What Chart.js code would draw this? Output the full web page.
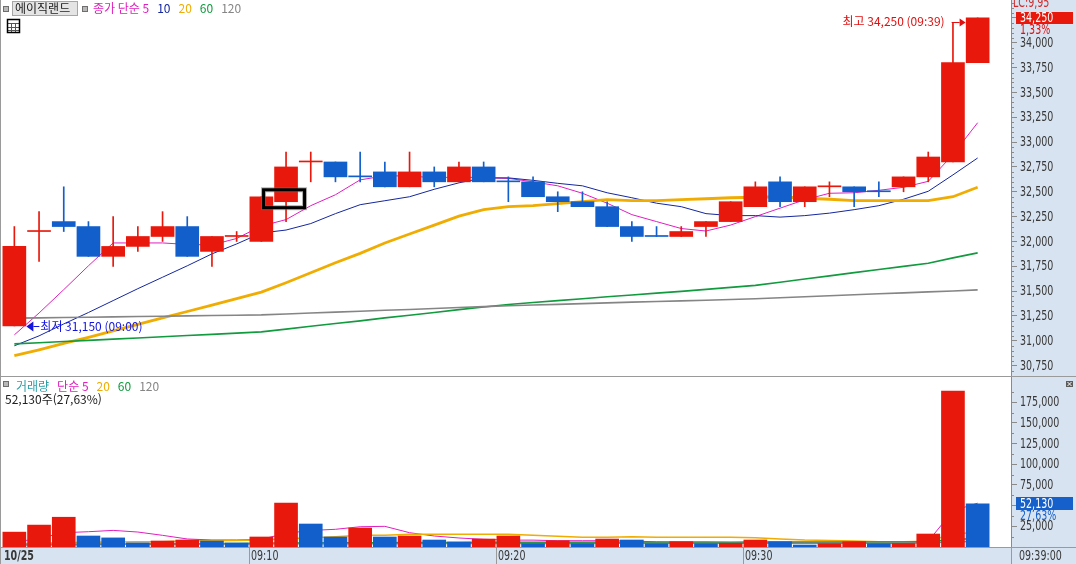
<!DOCTYPE html>
<html lang="ko">
<head>
<meta charset="utf-8">
<title>에이직랜드 1분봉</title>
<script src="https://cdn.jsdelivr.net/npm/chart.js@4.4.0/dist/chart.umd.min.js"></script>
<style>
  html, body { margin: 0; padding: 0; background: #fff; }
  #wrap { position: relative; width: 1076px; height: 564px; overflow: hidden; }
  #priceCanvas { position: absolute; left: 0; top: 0; }
  #volCanvas { position: absolute; left: 0; top: 377px; }
</style>
</head>
<body>
<div id="wrap">
  <canvas id="priceCanvas" width="1076" height="377"></canvas>
  <canvas id="volCanvas" width="1076" height="187"></canvas>
</div>
<script>
// 1분봉 10/25 09:00 ~ 09:39
const opens  = [31150, 32100, 32200, 32150, 31850, 31950, 32050, 32150, 31900, 32050,
                32000, 32400, 32800, 32800, 32650, 32700, 32550, 32700, 32600, 32750,
                32600, 32600, 32450, 32400, 32350, 32150, 32050, 32050, 32150, 32200,
                32350, 32600, 32400, 32550, 32550, 32500, 32550, 32650, 32800, 33800];
const highs  = [32150, 32300, 32550, 32200, 32250, 32150, 32300, 32250, 32050, 32100,
                32450, 32900, 32900, 32800, 32900, 32800, 32900, 32750, 32800, 32800,
                32650, 32650, 32500, 32500, 32400, 32200, 32150, 32150, 32200, 32400,
                32600, 32650, 32550, 32600, 32550, 32600, 32650, 32900, 34200, 34250];
const lows   = [31150, 31800, 32100, 31850, 31750, 31900, 32000, 31850, 31750, 32000,
                32000, 32200, 32600, 32600, 32600, 32550, 32550, 32550, 32600, 32600,
                32400, 32450, 32300, 32350, 32150, 32000, 32050, 32050, 32050, 32200,
                32350, 32350, 32350, 32450, 32350, 32450, 32500, 32600, 32800, 33800];
const closes = [31950, 32100, 32150, 31850, 31950, 32050, 32150, 31850, 32050, 32050,
                32450, 32750, 32800, 32650, 32650, 32550, 32700, 32600, 32750, 32600,
                32600, 32450, 32400, 32350, 32150, 32050, 32050, 32100, 32200, 32400,
                32550, 32400, 32550, 32550, 32500, 32500, 32650, 32850, 33800, 34250];
const dojiUp = [1, 9, 12, 33];   // 시가=종가인데 빨간 십자로 그려진 봉

const ma5   = [31060, 31280, 31515, 31755, 31985, 31985, 31985, 31970, 31965, 32030,
               32155, 32220, 32360, 32470, 32620, 32660, 32660, 32640, 32650, 32640,
               32635, 32600, 32560, 32485, 32385, 32270, 32200, 32130, 32105, 32165,
               32250, 32335, 32420, 32485, 32490, 32515, 32545, 32605, 32875, 33195];
const ma10  = [30950, 31050, 31170, 31285, 31405, 31525, 31640, 31755, 31875, 31975,
               32085, 32115, 32180, 32280, 32370, 32410, 32450, 32525, 32590, 32640,
               32640, 32615, 32585, 32560, 32490, 32440, 32385, 32350, 32280, 32260,
               32260, 32245, 32260, 32285, 32320, 32360, 32425, 32505, 32670, 32840];
const ma20  = [30850, 30910, 30975, 31035, 31100, 31165, 31230, 31295, 31360, 31425,
               31490, 31585, 31685, 31785, 31880, 31985, 32075, 32165, 32255, 32320,
               32350, 32360, 32380, 32400, 32420, 32410, 32410, 32420, 32430, 32440,
               32445, 32450, 32435, 32425, 32410, 32410, 32410, 32410, 32450, 32545];
const ma60  = [30969, 30980, 30993, 31005, 31017, 31029, 31041, 31053, 31065, 31077,
               31090, 31118, 31146, 31174, 31201, 31231, 31257, 31285, 31314, 31341,
               31366, 31385, 31405, 31424, 31443, 31461, 31480, 31498, 31518, 31538,
               31558, 31590, 31622, 31654, 31686, 31718, 31749, 31781, 31835, 31885];
const ma120 = [31228, 31231, 31235, 31238, 31241, 31245, 31248, 31251, 31255, 31258,
               31261, 31270, 31280, 31289, 31298, 31307, 31316, 31326, 31335, 31344,
               31353, 31360, 31367, 31374, 31382, 31389, 31396, 31402, 31409, 31416,
               31424, 31434, 31444, 31453, 31463, 31473, 31483, 31493, 31502, 31513];

const volumes = [18000, 26500, 36000, 13300, 11000, 5000, 7250, 8450, 7250, 4800,
                 12100, 53150, 27800, 12100, 22950, 12100, 13300, 8450, 6050, 9650,
                 13300, 4000, 7600, 4000, 9650, 8450, 4000, 6400, 4000, 4500,
                 8450, 6400, 2400, 4000, 6400, 4000, 4300, 15700, 188670, 52130];
const vma5   = [5700, 10500, 17300, 18500, 20100, 18100, 14100, 9700, 8500, 8500,
                9300, 16500, 20000, 21400, 24500, 25000, 17300, 13300, 10900, 9300,
                8300, 8300, 7600, 7600, 7600, 7300, 6200, 6000, 6000, 5500,
                5500, 5500, 5300, 5100, 5000, 4500, 4300, 7000, 43800, 52960];
const vma20  = [3600, 4400, 5200, 5600, 6000, 6400, 6400, 7600, 7600, 8000,
                8500, 10100, 11300, 12500, 14100, 14100, 15300, 15300, 15300, 15300,
                15300, 14100, 12900, 11700, 11700, 12300, 11700, 11700, 11700, 11700,
                11300, 9700, 8500, 8000, 7300, 6400, 6400, 6900, 15800, 17900];
const vma60  = [2400, 2600, 2800, 3000, 3300, 3500, 3700, 3900, 4100, 4300,
                4500, 4700, 4900, 5000, 5100, 5200, 5300, 5400, 5500, 5600,
                5700, 5700, 5750, 5750, 5800, 5800, 5800, 5850, 5850, 5850,
                5900, 5900, 5900, 5900, 5950, 5950, 5950, 6200, 9300, 10100];
const vma120 = [3300, 3350, 3400, 3450, 3500, 3550, 3600, 3650, 3700, 3750,
                3800, 3850, 3900, 3950, 4000, 4050, 4100, 4150, 4200, 4250,
                4300, 4300, 4350, 4350, 4400, 4400, 4450, 4450, 4500, 4500,
                4550, 4550, 4600, 4600, 4650, 4650, 4700, 4800, 6300, 6700];

const priceTicks = [30750, 31000, 31250, 31500, 31750, 32000, 32250, 32500,
                    32750, 33000, 33250, 33500, 33750, 34000, 34250];
const volTicks = [25000, 50000, 75000, 100000, 125000, 150000, 175000];
const xTickAt = [0, 10, 20, 30];
const xTickLabels = ['10/25', '09:10', '09:20', '09:30'];
const lastTimeLabel = '09:39:00';
const stockName = '에이직랜드';
const changePct = '1,33%';
const topNote = 'LC:9,95';

const RED = '#e8190c', BLUE = '#125fcc';
const MAGENTA = '#e01fc0', NAVY = '#14279e', ORANGE = '#f0ac00', GREEN = '#119a3e', GRAY = '#858585';
const TEAL = '#2a9ea6';
const AXIS_BG = '#d7e3f0', LINE_GRAY = '#9a9a9a', TEXT = '#383838';
const NUM_FONT = "'DejaVu Sans', sans-serif";
const KR = "'Noto Sans CJK KR', 'Noto Sans', sans-serif";

const fmt = v => v.toLocaleString('en-US');
const xIdx = closes.map((_, i) => i);
const pts = arr => arr.map((v, i) => ({ x: i, y: v }));
const candleColor = xIdx.map(i =>
  (closes[i] > opens[i] || (closes[i] === opens[i] && dojiUp.includes(i))) ? RED : BLUE);
const volColor = volumes.map((v, i) => (i === 0 || v > volumes[i - 1]) ? RED : BLUE);

function maLine(label, arr, color, width) {
  return { type: 'line', label, data: pts(arr), borderColor: color, borderWidth: width,
           pointRadius: 0, tension: 0, fill: false, order: 2 };
}

// 좁은 굴림체 숫자 흉내: 가로로 눌러서 찍는다
function numText(ctx, s, x, y, color, bold) {
  ctx.save();
  ctx.translate(x, y);
  ctx.scale(0.68, 1);
  ctx.font = (bold ? 'bold ' : '') + '14px ' + NUM_FONT;
  ctx.fillStyle = color;
  ctx.textAlign = 'left';
  ctx.textBaseline = 'middle';
  ctx.fillText(s, 0, 0);
  ctx.restore();
}

function drawSeq(ctx, x, y, parts, gap) {
  ctx.font = '12px ' + KR;
  ctx.textBaseline = 'middle';
  ctx.textAlign = 'left';
  parts.forEach(([s, c]) => {
    ctx.fillStyle = c;
    ctx.fillText(s, x, y);
    x += ctx.measureText(s).width + gap;
  });
}

function smallBox(ctx, x, y) {
  ctx.fillStyle = '#b8b8b8';
  ctx.fillRect(x, y, 6, 6);
  ctx.strokeStyle = '#6e6e6e';
  ctx.lineWidth = 1;
  ctx.strokeRect(x + 0.5, y + 0.5, 5, 5);
}

function fillAxisBg(chart, withStrip) {
  const { ctx, chartArea: a, width, height } = chart;
  ctx.save();
  ctx.fillStyle = AXIS_BG;
  ctx.fillRect(a.right, 0, width - a.right, height);
  if (withStrip) ctx.fillRect(0, a.bottom, width, height - a.bottom);
  ctx.restore();
}

function yLabels(ctx, scale, x0) {
  scale.ticks.forEach(t => numText(ctx, fmt(t.value), x0 + 9, scale.getPixelForValue(t.value) + 0.5, TEXT));
}

function minorTicks(ctx, scale, x0, from, to, step, majorStep) {
  ctx.strokeStyle = '#8a8a8a';
  ctx.lineWidth = 1;
  ctx.beginPath();
  for (let v = from; v <= to; v += step) {
    if (v % majorStep === 0) continue;
    const py = Math.round(scale.getPixelForValue(v)) + 0.5;
    ctx.moveTo(x0, py);
    ctx.lineTo(x0 + 3, py);
  }
  ctx.stroke();
}

const pricePanel = {
  id: 'pricePanel',
  beforeDraw(chart) { fillAxisBg(chart, false); },
  afterDraw(chart) {
    const { ctx, chartArea: a, width, scales: { x, y } } = chart;
    ctx.save();
    minorTicks(ctx, y, a.right, 30650, 34400, 50, 250);
    yLabels(ctx, y, a.right);

    ctx.strokeStyle = LINE_GRAY;
    ctx.lineWidth = 1;
    ctx.beginPath();
    ctx.moveTo(0.5, 0); ctx.lineTo(0.5, 377);
    ctx.moveTo(0, 376.5); ctx.lineTo(width, 376.5);
    ctx.stroke();

    // 종목 범례
    smallBox(ctx, 3, 6);
    ctx.fillStyle = '#e4e4e4';
    ctx.fillRect(12, 1, 66, 15);
    ctx.strokeStyle = '#a6a6a6';
    ctx.strokeRect(12.5, 1.5, 65, 14);
    ctx.font = '12px ' + KR;
    ctx.fillStyle = '#202020';
    ctx.textBaseline = 'middle';
    ctx.fillText(stockName, 15, 8.5);
    smallBox(ctx, 82, 6);
    drawSeq(ctx, 93, 8.5, [['종가 단순 5', MAGENTA], ['10', NAVY], ['20', ORANGE], ['60', GREEN], ['120', GRAY]], 8);

    // 표 아이콘
    ctx.fillStyle = '#fff';
    ctx.fillRect(7, 19, 13, 14);
    ctx.strokeStyle = '#555';
    ctx.beginPath();
    [23.5, 27.5, 30.5].forEach(v => { ctx.moveTo(8, v); ctx.lineTo(19, v); });
    [11.5, 15.5].forEach(v => { ctx.moveTo(v, 23); ctx.lineTo(v, 32); });
    ctx.stroke();
    ctx.strokeStyle = '#000';
    ctx.lineWidth = 1.5;
    ctx.strokeRect(7.5, 19.5, 12, 13);

    // 선택 표시 박스
    const sx = x.getPixelForValue(11);
    const sTop = y.getPixelForValue(32520), sBot = y.getPixelForValue(32340);
    ctx.strokeStyle = 'rgba(110,110,110,0.55)';
    ctx.lineWidth = 5;
    ctx.strokeRect(sx - 22.5, sTop, 41, sBot - sTop);
    ctx.strokeStyle = '#000';
    ctx.lineWidth = 3;
    ctx.strokeRect(sx - 22.5, sTop, 41, sBot - sTop);

    // 최저 / 최고
    const lowV = Math.min(...lows), iLow = lows.indexOf(lowV);
    const highV = Math.max(...highs), iHigh = highs.indexOf(highV);
    ctx.lineWidth = 1;
    let ax = x.getPixelForValue(iLow) + 12, ay = Math.round(y.getPixelForValue(lowV)) + 0.5;
    ctx.fillStyle = '#1414e0';
    ctx.strokeStyle = '#1414e0';
    ctx.beginPath(); ctx.moveTo(ax, ay); ctx.lineTo(ax + 7, ay - 5); ctx.lineTo(ax + 7, ay + 5); ctx.closePath(); ctx.fill();
    ctx.beginPath(); ctx.moveTo(ax + 7, ay); ctx.lineTo(ax + 13, ay); ctx.stroke();
    ctx.font = '12px ' + KR;
    ctx.textAlign = 'left';
    ctx.fillText('최저 ' + fmt(lowV) + ' (09:00)', ax + 14, ay);

    ax = x.getPixelForValue(iHigh) - 12; ay = Math.round(y.getPixelForValue(highV)) + 4.5;
    ctx.fillStyle = '#e01010';
    ctx.strokeStyle = '#e01010';
    ctx.beginPath(); ctx.moveTo(ax, ay); ctx.lineTo(ax - 6, ay - 4); ctx.lineTo(ax - 6, ay + 4); ctx.closePath(); ctx.fill();
    ctx.beginPath(); ctx.moveTo(ax - 6, ay); ctx.lineTo(ax - 14, ay); ctx.stroke();
    ctx.textAlign = 'right';
    ctx.fillText('최고 ' + fmt(highV) + ' (09:39)', ax - 21, ay - 1.5);

    // 현재가 표시
    const last = closes[closes.length - 1];
    const cy = y.getPixelForValue(last);
    ctx.fillStyle = RED;
    ctx.fillRect(a.right + 5, Math.round(cy) - 6, 57, 12);
    numText(ctx, fmt(last), a.right + 9, cy, '#fff');
    numText(ctx, changePct, a.right + 9, cy + 12, '#e01010');
    numText(ctx, topNote, a.right + 2, 3, '#d02a2a');
    ctx.restore();
  }
};

const volPanel = {
  id: 'volPanel',
  beforeDraw(chart) { fillAxisBg(chart, true); },
  afterDraw(chart) {
    const { ctx, chartArea: a, width, height, scales: { x, y } } = chart;
    ctx.save();
    minorTicks(ctx, y, a.right, 12500, 187500, 12500, 25000);
    yLabels(ctx, y, a.right);

    ctx.strokeStyle = LINE_GRAY;
    ctx.lineWidth = 1;
    ctx.beginPath();
    ctx.moveTo(0.5, 0); ctx.lineTo(0.5, height);
    ctx.moveTo(0, Math.round(a.bottom) + 0.5); ctx.lineTo(width, Math.round(a.bottom) + 0.5);
    ctx.moveTo(Math.round(a.right) + 0.5, a.bottom); ctx.lineTo(Math.round(a.right) + 0.5, height);
    xTickAt.slice(1).forEach(t => {
      const px = Math.round(x.getPixelForValue(t - 0.5)) + 0.5;
      ctx.moveTo(px, a.bottom); ctx.lineTo(px, height);
    });
    ctx.stroke();

    // 시간축 라벨
    const midY = (a.bottom + height) / 2 + 1;
    x.ticks.forEach((t, i) => numText(ctx, xTickLabels[i], x.getPixelForValue(t.value) + 2, midY, TEXT, i === 0));
    numText(ctx, lastTimeLabel, a.right + 8, midY, TEXT);

    // 범례
    smallBox(ctx, 3, 4);
    drawSeq(ctx, 16, 9, [['거래량', TEAL], ['단순 5', MAGENTA], ['20', ORANGE], ['60', GREEN], ['120', GRAY]], 8);
    const last = volumes[volumes.length - 1], prev = volumes[volumes.length - 2];
    const pct = (last / prev * 100).toFixed(2).replace('.', ',');
    ctx.fillStyle = '#202020';
    ctx.font = '12px ' + KR;
    ctx.fillText(fmt(last) + '주(' + pct + '%)', 5, 22);

    // 닫기 아이콘
    ctx.fillStyle = '#5c5c5c';
    ctx.fillRect(width - 10, 4, 7, 6);
    ctx.strokeStyle = '#fff';
    ctx.beginPath();
    ctx.moveTo(width - 8.5, 5); ctx.lineTo(width - 4.5, 9);
    ctx.moveTo(width - 4.5, 5); ctx.lineTo(width - 8.5, 9);
    ctx.stroke();

    // 현재 거래량 표시
    const cy = y.getPixelForValue(last);
    ctx.fillStyle = '#1660cc';
    ctx.fillRect(a.right + 5, Math.round(cy) - 7, 57, 13);
    numText(ctx, fmt(last), a.right + 9, cy, '#fff');
    numText(ctx, pct + '%', a.right + 9, cy + 12, '#1660cc');
    ctx.restore();
  }
};

const hiddenTicks = { display: false, autoSkip: false };

new Chart(document.getElementById('priceCanvas'), {
  type: 'bar',
  data: {
    datasets: [
      { label: 'body', data: xIdx.map(i => ({ x: i, y: [opens[i], closes[i]] })),
        backgroundColor: candleColor, barThickness: 23, minBarLength: 1, grouped: false,
        borderWidth: 0, borderSkipped: false, order: 0 },
      { label: 'wick', data: xIdx.map(i => ({ x: i, y: [lows[i], highs[i]] })),
        backgroundColor: candleColor, barThickness: 1, minBarLength: 1, grouped: false,
        borderWidth: 0, borderSkipped: false, order: 1 },
      maLine('MA120', ma120, GRAY, 1.6),
      maLine('MA60', ma60, GREEN, 1.6),
      maLine('MA20', ma20, ORANGE, 2.8),
      maLine('MA10', ma10, NAVY, 1),
      maLine('MA5', ma5, MAGENTA, 1)
    ]
  },
  options: {
    responsive: false,
    animation: false,
    devicePixelRatio: 1,
    layout: { autoPadding: false, padding: { left: 2, right: 0, top: 0, bottom: 1 } },
    plugins: { legend: { display: false }, tooltip: { enabled: false } },
    scales: {
      x: { type: 'linear', min: -0.5, max: 40.35, offset: false, display: false },
      y: {
        position: 'right', min: 30646, max: 34430,
        afterBuildTicks: s => { s.ticks = priceTicks.map(v => ({ value: v })); },
        afterFit: s => { s.width = 65; },
        grid: { drawOnChartArea: false, drawTicks: true, tickLength: 6, tickColor: '#8a8a8a' },
        border: { display: true, color: '#8a8a8a' },
        ticks: hiddenTicks
      }
    }
  },
  plugins: [pricePanel]
});

new Chart(document.getElementById('volCanvas'), {
  type: 'bar',
  data: {
    datasets: [
      { label: '거래량', data: pts(volumes), backgroundColor: volColor, barThickness: 23,
        grouped: false, borderWidth: 0, order: 0 },
      maLine('V120', vma120, GRAY, 1.5),
      maLine('V60', vma60, GREEN, 1.5),
      maLine('V20', vma20, ORANGE, 1.5),
      maLine('V5', vma5, MAGENTA, 1)
    ]
  },
  options: {
    responsive: false,
    animation: false,
    devicePixelRatio: 1,
    layout: { autoPadding: false, padding: { left: 2, right: 0, top: 0, bottom: 0 } },
    plugins: { legend: { display: false }, tooltip: { enabled: false } },
    scales: {
      x: {
        type: 'linear', min: -0.5, max: 40.35, offset: false, position: 'bottom',
        afterBuildTicks: s => { s.ticks = xTickAt.map(v => ({ value: v - 0.5 })); },
        afterFit: s => { s.height = 17; },
        grid: { drawOnChartArea: false, drawTicks: false },
        border: { display: false },
        ticks: hiddenTicks
      },
      y: {
        position: 'right', min: 0, max: 205600,
        afterBuildTicks: s => { s.ticks = volTicks.map(v => ({ value: v })); },
        afterFit: s => { s.width = 65; },
        grid: { drawOnChartArea: false, drawTicks: true, tickLength: 6, tickColor: '#8a8a8a' },
        border: { display: true, color: '#8a8a8a' },
        ticks: hiddenTicks
      }
    }
  },
  plugins: [volPanel]
});
</script>
</body>
</html>
